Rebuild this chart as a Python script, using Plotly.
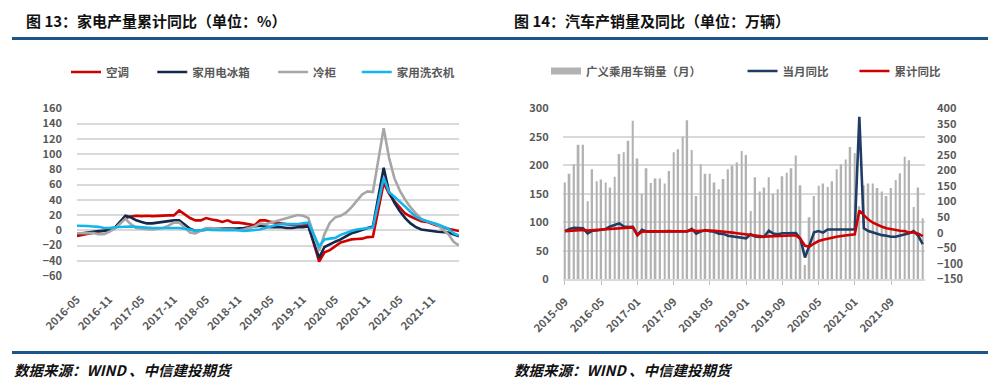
import plotly.graph_objects as go
import pandas as pd

# The page body keeps the browser's default 8px margin, so the figure is
# sized to fill exactly the 1000x390 window inside it.
PAGE_OFF = 8
W, H = 1000 - 2 * PAGE_OFF, 390 - 2 * PAGE_OFF

# ---------------- Figure 13 data (家电产量累计同比, %) ----------------
left_months = pd.period_range("2016-05", "2022-04", freq="M").strftime("%Y-%m").tolist()
left_ticks = ["2016-05", "2016-11", "2017-05", "2017-11", "2018-05", "2018-11",
              "2019-05", "2019-11", "2020-05", "2020-11", "2021-05", "2021-11"]
N = None  # January not published (Jan-Feb combined)
aircon = [-7.5, -6, -4.5, -3, -2, -1, 1, 3, N, 16, 18, 19,
          18.5, 19, 18.5, 19, 19, 19.5, 19.5, 26, N, 16, 13, 13,
          16, 14, 13, 11, 13, 10, 10, 9, N, 6.5, 13, 13,
          11, 10, 9, 8, 7, 7, 7, 7, N, -41, -29, -26,
          -21, -16, -14, -12, -11.5, -11, -9, -8.5, N, 62, 48, 38,
          30, 22, 18, 15, 12, 11, 9, 6, N, 2, 0, -1]
fridge = [-5, -4.5, -3, -2, -1, -1, 0, 3, N, 19, 17, 13,
          11, 9, 9, 10, 11, 12, 13, 13, N, 2, -1, 0,
          1, 1.5, 2, 2, 2, 2.5, 2.5, 3, N, 5, 6, 5,
          4, 4, 4, 3, 3, 4, 4, 5, N, -36, -22, -18,
          -15, -12, -8, -4, -2, 1, 3, 5, N, 82, 50, 36,
          25, 16, 9, 4, 1, 0, -1, -2, N, -3, -6, -8]
freezer = [-4, -4, -4, -3.5, -5, -5, -2, 2, N, 15, 8, 3,
           2, 1.5, 1, 2, 3, 6, 10, 10, N, -3, -4, 0,
           3, 3, 2, 1, 1, 1, 0, 1, N, 5, 9, 8,
           10, 12, 14, 16, 18, 20, 19, 16, N, -27, -5, 10,
           17, 19, 23, 30, 38, 47, 51, 50, N, 134, 95, 68,
           52, 40, 30, 22, 15, 12, 10, 7, N, -5, -15, -20]
washer = [6, 6, 5.5, 5, 4.5, 3, 3, 4, N, 5, 5, 4.5,
          4, 3, 3, 3, 3, 3, 3.5, 3, N, 1, -1, 0,
          1, 0.5, 0, 0, 0, 0, 0, -1, N, 0, 1, 3,
          5, 7, 8, 8, 8, 8, 9, 10, N, -21, -12, -11,
          -10, -6, -3, -1, 1, 2, 3, 3.5, N, 69, 50, 44,
          38, 31, 24, 18, 14, 12, 10, 8, N, 2, -4, -7]

# ---------------- Figure 14 data (汽车产销量, 万辆 / %) ----------------
right_months = pd.period_range("2015-09", "2022-04", freq="M").strftime("%Y-%m").tolist()
right_ticks = ["2015-09", "2016-05", "2017-01", "2017-09", "2018-05",
               "2019-01", "2019-09", "2020-05", "2021-01", "2021-09"]
car_sales = [170, 185, 202, 236, 236, 137, 193, 172, 175, 170,
             161, 180, 220, 223, 243, 278, 212, 150, 195, 169,
             177, 177, 168, 190, 223, 228, 250, 279, 227, 146,
             202, 185, 185, 170, 158, 176, 193, 199, 205, 225,
             218, 120, 179, 154, 161, 179, 150, 158, 181, 187,
             195, 217, 165, 25, 109, 146, 164, 168, 162, 172,
             193, 202, 210, 232, 221, 128, 165, 168, 168, 160,
             154, 146, 160, 174, 186, 215, 209, 127, 161, 107]
monthly_yoy = [5, 12, 16, 16, 14, -2, 6, 7, 9, 12,
               20, 25, 30, 20, 18, 19, -8, 9, 4, 3,
               4, 5, 5, 5, 4, 4, 3, 4, 12, -3,
               4, 8, 5, 3, -3, -4, -10, -12, -15, -17,
               -18, -5, -12, -14, -13, 6, -3, -5, -2, -2,
               -2, -1, -20, -80, -40, 1, 5, 0, 10, 10,
               10, 10, 10, 10, 10, 373, 14, 5, 0, -5,
               -8, -10, -13, -13, -10, -6, -2, 5, -10, -37]
cumulative_yoy = [5, 6, 7, 8, 9, 7, 8, 9, 10, 11,
                  12, 13, 14, 15, 16, 17, -8, 3, 4, 4,
                  4, 4, 5, 5, 5, 5, 5, 5, 8, 5,
                  6, 7, 7, 6, 5, 4, 2, 0, -2, -4,
                  -5, -8, -10, -12, -13, -12, -11, -10, -10, -9,
                  -9, -9, -20, -42, -45, -35, -27, -23, -19, -16,
                  -13, -11, -9, -7, -5, 71, 55, 42, 32, 25,
                  19, 14, 11, 8, 6, 5, 0, 1, -3, -11]

# ---------------- styling ----------------
CJK = "Noto Sans CJK SC"
LBL = dict(family=CJK, size=11, color="#595959", weight="bold")
LEG = dict(family=CJK, size=11.5, color="#595959", weight="bold")
GRID = "#d9d9d9"
BAR_COL = "#b2b2b2"
NB = "\u00a0"


def fx(p):  # window pixel -> paper x
    return (p - PAGE_OFF) / W


def fy(p):  # window pixel -> paper y
    return 1 - (p - PAGE_OFF) / H


fig = go.Figure()

left_series = [("空调", aircon, "#d00000", 7), ("家用电冰箱", fridge, "#13284a", 7),
               ("冷柜", freezer, "#a6a6a6", 6), ("家用洗衣机", washer, "#14b4ec", 0)]
for name, vals, col, pad in left_series:
    fig.add_trace(go.Scatter(x=left_months, y=vals, name=name + NB * pad, mode="lines",
                             connectgaps=True, line=dict(color=col, width=2.6),
                             xaxis="x", yaxis="y", legend="legend"))

bar_name = "广义乘用车销量（月）"
fig.add_trace(go.Bar(x=right_months, y=car_sales, name=bar_name, showlegend=False,
                     marker=dict(color=BAR_COL, line=dict(width=0)), width=0.38,
                     xaxis="x2", yaxis="y2"))
# legend key drawn as a wide grey swatch like the original
fig.add_trace(go.Scatter(x=[None], y=[None], name=bar_name + NB * 14, mode="lines",
                         line=dict(color=BAR_COL, width=7),
                         xaxis="x2", yaxis="y2", legend="legend2"))
fig.add_trace(go.Scatter(x=right_months, y=monthly_yoy, name="当月同比" + NB * 8, mode="lines",
                         line=dict(color="#1f3c64", width=2.6),
                         xaxis="x2", yaxis="y3", legend="legend2"))
fig.add_trace(go.Scatter(x=right_months, y=cumulative_yoy, name="累计同比", mode="lines",
                         line=dict(color="#d00000", width=2.6),
                         xaxis="x2", yaxis="y3", legend="legend2"))

fig.update_layout(
    width=W, height=H, margin=dict(l=0, r=0, t=0, b=0, autoexpand=False),
    paper_bgcolor="white", plot_bgcolor="white",
    font=dict(family=CJK, color="#595959"),
    barmode="overlay",
    xaxis=dict(domain=[fx(77), fx(459)], type="category", range=[0, len(left_months) - 1],
               tickmode="array", tickvals=left_ticks, tickangle=-45, tickfont=LBL,
               showgrid=False, zeroline=False, showline=False, ticks="",
               ticklabelstandoff=14, anchor="y", automargin=False),
    yaxis=dict(domain=[fy(276), fy(108.3)], range=[-60, 160], dtick=20,
               showgrid=True, gridcolor=GRID, gridwidth=1.5, zeroline=False,
               tickfont=LBL, ticks="", ticklabelstandoff=14, anchor="x", automargin=False),
    xaxis3=dict(overlaying="x", anchor="free", position=fy(229.3),
                range=[0, len(left_months) - 1],
                tickmode="array", tickvals=[5.5, 11.5, 17.5, 23.5, 29.5, 35.5, 41.5, 47.5, 53.5, 59.5, 65.5],
                showticklabels=False, ticks="outside", ticklen=4, tickcolor="#bfbfbf",
                showline=True, linecolor=GRID, linewidth=1.5, showgrid=False, zeroline=False,
                automargin=False),
    xaxis2=dict(domain=[fx(562.7), fx(925)], type="category", range=[-0.5, len(right_months) - 0.5],
                tickmode="array", tickvals=right_ticks, tickangle=-45, tickfont=LBL,
                showgrid=False, zeroline=False, showline=True, linecolor=GRID, linewidth=1.5,
                ticks="outside", ticklen=4, tickcolor="#bfbfbf",
                ticklabelstandoff=6, anchor="y2", automargin=False),
    yaxis2=dict(domain=[fy(279.3), fy(108.3)], range=[0, 300], dtick=50,
                showgrid=True, gridcolor=GRID, gridwidth=1.5, zeroline=False,
                tickfont=LBL, ticks="", ticklabelstandoff=13, anchor="x2", automargin=False),
    yaxis3=dict(overlaying="y2", side="right", anchor="x2", range=[-150, 400], dtick=50,
                showgrid=False, zeroline=False, tickfont=LBL, ticks="", ticklabelstandoff=11,
                automargin=False),
    legend=dict(orientation="h", x=fx(66), y=fy(72), xanchor="left", yanchor="middle",
                font=LEG, bgcolor="rgba(0,0,0,0)", traceorder="normal"),
    legend2=dict(orientation="h", x=fx(546), y=fy(71), xanchor="left", yanchor="middle",
                 font=LEG, bgcolor="rgba(0,0,0,0)", traceorder="normal"),
)

# titles
for x, txt in [(24, "图 13：家电产量累计同比（单位：%）"), (512, "图 14：汽车产销量及同比（单位：万辆）")]:
    fig.add_annotation(x=fx(x), y=fy(20), xref="paper", yref="paper", xanchor="left", yanchor="middle",
                       text=txt, showarrow=False,
                       font=dict(family=CJK, size=15, color="#111111", weight="bold"))
# sources
for x in (12, 512):
    fig.add_annotation(x=fx(x), y=fy(369), xref="paper", yref="paper", xanchor="left", yanchor="middle",
                       text="数据来源：WIND" + NB + "、中信建投期货", showarrow=False,
                       font=dict(family=CJK, size=14.5, color="#111111", weight="bold", style="italic"))
# header / footer rules
for yy in (38.5, 352.5):
    fig.add_shape(type="line", xref="paper", yref="paper", x0=fx(12), x1=fx(988), y0=fy(yy), y1=fy(yy),
                  line=dict(color="#1c5587", width=3))

fig.write_html("out.html")
